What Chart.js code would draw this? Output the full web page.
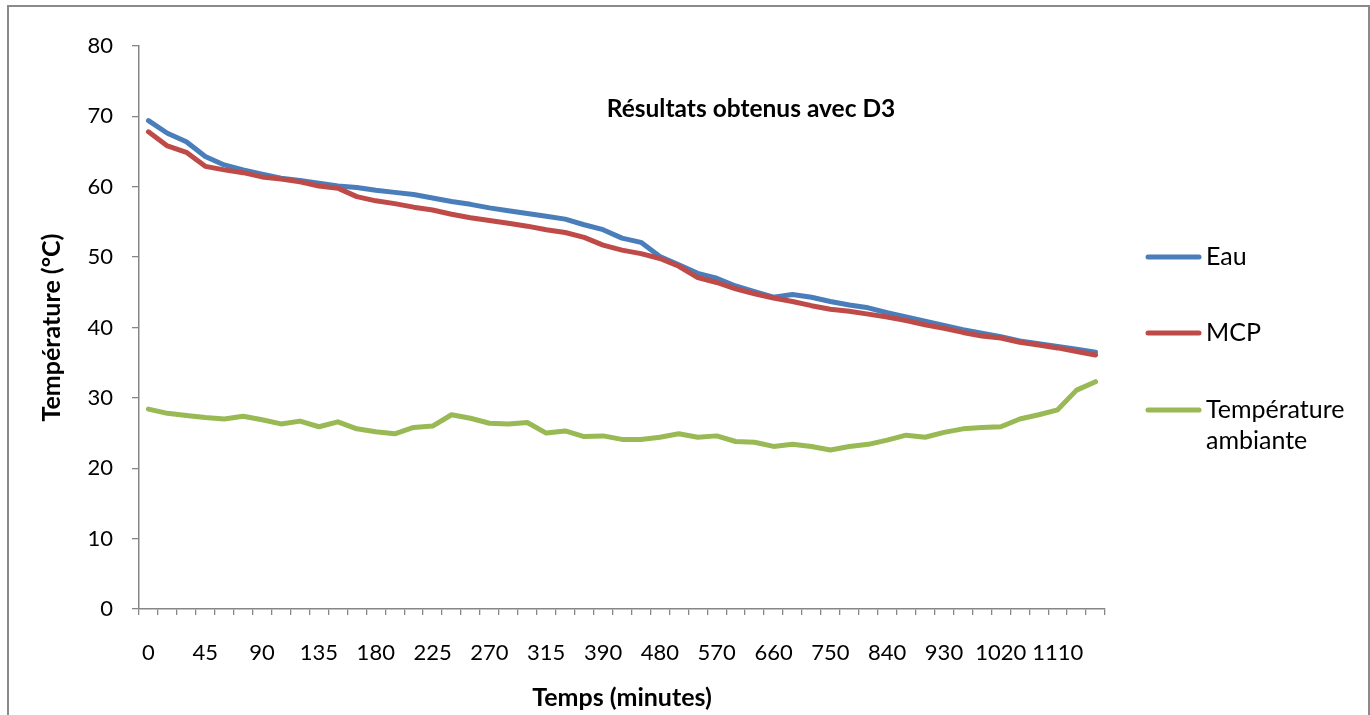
<!DOCTYPE html>
<html>
<head>
<meta charset="utf-8">
<title>Résultats obtenus avec D3</title>
<script src="https://cdn.jsdelivr.net/npm/chart.js@4/dist/chart.umd.min.js"></script>
<style>
  html, body { margin: 0; padding: 0; background: #ffffff; overflow: hidden; }
  #wrap { position: relative; width: 1370px; height: 715px; }
  canvas { display: block; }
</style>
</head>
<body>
<div id="wrap"><canvas id="chart" width="1370" height="715"></canvas></div>
<script>
// Time of each reading (minutes)
const categories = [0, 15, 30, 45, 60, 75, 90, 105, 120, 135, 150, 165, 180, 195, 210, 225,
  240, 255, 270, 285, 300, 315, 330, 360, 390, 420, 450, 480, 510, 540, 570, 600, 630,
  660, 690, 720, 750, 780, 810, 840, 870, 900, 930, 960, 990, 1020, 1050, 1080, 1110,
  1140, 1170];

// Labels printed under the time axis
const tickLabels = ['0', '45', '90', '135', '180', '225', '270', '315', '390', '480',
  '570', '660', '750', '840', '930', '1020', '1110'];

// Water temperature (°C)
const eau = [69.4, 67.6, 66.4, 64.3, 63.1, 62.4, 61.8, 61.2, 60.9, 60.5, 60.1, 59.9, 59.5,
  59.2, 58.9, 58.4, 57.9, 57.5, 57.0, 56.6, 56.2, 55.8, 55.4, 54.6, 53.9, 52.7, 52.1,
  50.1, 48.9, 47.7, 47.0, 45.9, 45.1, 44.3, 44.7, 44.3, 43.7, 43.2, 42.8, 42.1, 41.5,
  40.9, 40.3, 39.7, 39.2, 38.7, 38.1, 37.7, 37.3, 36.9, 36.5];

// Phase change material temperature (°C)
const mcp = [67.8, 65.8, 64.9, 62.9, 62.4, 62.0, 61.4, 61.1, 60.7, 60.1, 59.8, 58.6, 58.0,
  57.6, 57.1, 56.7, 56.1, 55.6, 55.2, 54.8, 54.4, 53.9, 53.5, 52.8, 51.7, 51.0, 50.5,
  49.8, 48.7, 47.1, 46.4, 45.5, 44.8, 44.2, 43.7, 43.1, 42.6, 42.3, 41.9, 41.5, 41.0,
  40.4, 39.9, 39.3, 38.8, 38.5, 37.9, 37.5, 37.1, 36.6, 36.1];

// Room temperature (°C)
const ambiante = [28.4, 27.8, 27.5, 27.2, 27.0, 27.4, 26.9, 26.3, 26.7, 25.9, 26.6, 25.6,
  25.2, 24.9, 25.8, 26.0, 27.6, 27.1, 26.4, 26.3, 26.5, 25.0, 25.3, 24.5, 24.6, 24.1,
  24.1, 24.4, 24.9, 24.4, 24.6, 23.8, 23.7, 23.1, 23.4, 23.1, 22.6, 23.1, 23.4, 24.0,
  24.7, 24.4, 25.1, 25.6, 25.8, 25.9, 27.0, 27.6, 28.3, 31.1, 32.3];

const seriesNames = ['Eau', 'MCP', ['Température', 'ambiante']];
const seriesColors = ['#4A7EBB', '#BE4B48', '#98B954'];

const FONT = 'Lato';
const AXIS_GREY = '#868686';

// White page with the grey chart frame
const framePlugin = {
  id: 'frame',
  beforeDraw(chart) {
    const ctx = chart.ctx;
    ctx.save();
    ctx.fillStyle = '#ffffff';
    ctx.fillRect(0, 0, chart.width, chart.height);
    ctx.strokeStyle = '#8a8a8a';
    ctx.lineWidth = 2;
    ctx.strokeRect(8, 6, chart.width - 9, chart.height + 10);
    ctx.restore();
  }
};

// Title placed over the plot area
const overlayTitle = {
  id: 'overlayTitle',
  afterDraw(chart) {
    const ctx = chart.ctx;
    ctx.save();
    ctx.font = 'bold 24.5px ' + FONT;
    ctx.fillStyle = '#000000';
    ctx.textAlign = 'center';
    ctx.textBaseline = 'middle';
    ctx.fillText('Résultats obtenus avec D3', 751, 109);
    ctx.restore();
  }
};

// Legend on the right, one entry per dataset
const sideLegend = {
  id: 'sideLegend',
  afterDraw(chart) {
    const ctx = chart.ctx;
    const rows = [257, 333, 410];
    ctx.save();
    ctx.font = '25px ' + FONT;
    ctx.textAlign = 'left';
    ctx.textBaseline = 'middle';
    chart.data.datasets.forEach((ds, i) => {
      const y = rows[i];
      ctx.strokeStyle = ds.borderColor;
      ctx.lineWidth = 5;
      ctx.lineCap = 'round';
      ctx.beginPath();
      ctx.moveTo(1148, y);
      ctx.lineTo(1199, y);
      ctx.stroke();
      ctx.fillStyle = '#000000';
      const lines = Array.isArray(ds.label) ? ds.label : [ds.label];
      lines.forEach((t, k) => ctx.fillText(t, 1206, y + k * 31));
    });
    ctx.restore();
  }
};

const makeSeries = (i, data, order) => ({
  label: seriesNames[i],
  data: data,
  borderColor: seriesColors[i],
  backgroundColor: seriesColors[i],
  borderWidth: 5,
  borderJoinStyle: 'round',
  borderCapStyle: 'round',
  pointRadius: 0,
  pointHoverRadius: 0,
  tension: 0,
  fill: false,
  order: order
});

new Chart(document.getElementById('chart'), {
  type: 'line',
  data: {
    labels: categories.map(String),
    datasets: [
      makeSeries(0, eau, 3),
      makeSeries(1, mcp, 2),
      makeSeries(2, ambiante, 1)
    ]
  },
  options: {
    responsive: false,
    animation: false,
    devicePixelRatio: 1,
    events: [],
    layout: { padding: { left: 0, right: 265, top: 46, bottom: 0 } },
    plugins: {
      legend: { display: false },
      title: { display: false },
      tooltip: { enabled: false }
    },
    scales: {
      x: {
        type: 'category',
        offset: true,
        grid: {
          offset: true,
          drawOnChartArea: false,
          drawTicks: true,
          tickLength: 6,
          color: AXIS_GREY,
          lineWidth: 1.3
        },
        border: { display: true, color: AXIS_GREY, width: 1.5 },
        ticks: {
          autoSkip: false,
          maxRotation: 0,
          minRotation: 0,
          padding: 25,
          color: '#000000',
          font: { family: FONT, size: 22 },
          callback(value, index) {
            const lbl = this.getLabelForValue(value);
            return tickLabels.includes(lbl) ? lbl : '';
          }
        },
        title: {
          display: true,
          text: 'Temps (minutes)',
          color: '#000000',
          font: { family: FONT, size: 25, weight: 'bold' },
          padding: { top: 0, bottom: 2 }
        },
        afterFit(scale) { scale.height = 106; }
      },
      y: {
        type: 'linear',
        min: 0,
        max: 80,
        grid: {
          drawOnChartArea: false,
          drawTicks: true,
          tickLength: 7,
          color: AXIS_GREY,
          lineWidth: 1.3
        },
        border: { display: true, color: AXIS_GREY, width: 1.5 },
        ticks: {
          stepSize: 10,
          padding: 19,
          color: '#000000',
          font: { family: FONT, size: 22 }
        },
        title: {
          display: true,
          text: 'Température (°C)',
          color: '#000000',
          font: { family: FONT, size: 25, weight: 'bold' },
          padding: { top: 37, bottom: 0 }
        },
        afterFit(scale) { scale.width = 139; }
      }
    }
  },
  plugins: [framePlugin, overlayTitle, sideLegend]
});
</script>
</body>
</html>
